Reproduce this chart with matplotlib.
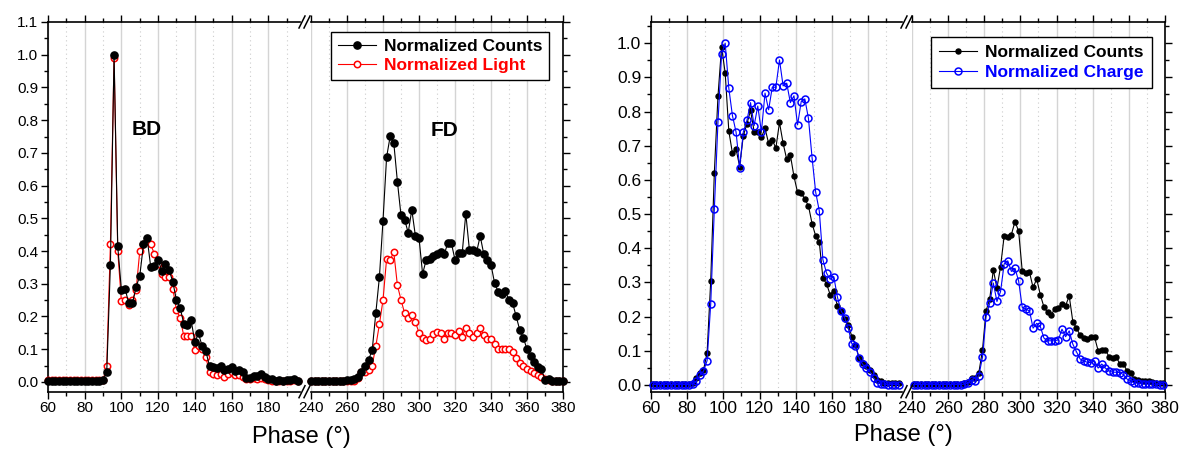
import numpy as np
import matplotlib
matplotlib.use('Agg')
import matplotlib.pyplot as plt
from matplotlib.lines import Line2D
from matplotlib.ticker import MultipleLocator

plt.rcParams['font.family'] = ['Liberation Sans', 'DejaVu Sans']

# ─────────────────────────────────────────────────────────────
# Data: left panel (counts vs light), even phases
# ─────────────────────────────────────────────────────────────
phase_L_a = np.arange(60, 197, 2)      # 60..196
phase_L_b = np.arange(240, 381, 2)     # 240..380

counts_L_a = [0.002, 0.003, 0.002, 0.003, 0.002, 0.002, 0.003, 0.002, 0.003, 0.002,
              0.002, 0.003, 0.002, 0.004, 0.003,
              0.005, 0.030, 0.357, 1.000, 0.414, 0.280, 0.285, 0.240, 0.240, 0.290,
              0.324, 0.420, 0.440, 0.350, 0.355, 0.373, 0.340, 0.360, 0.343, 0.305,
              0.250, 0.226, 0.178, 0.175, 0.188, 0.122, 0.148, 0.109, 0.094, 0.048,
              0.044, 0.042, 0.050, 0.036, 0.040, 0.045, 0.034, 0.035, 0.030, 0.012,
              0.012, 0.018, 0.017, 0.025, 0.015, 0.010, 0.008, 0.002, 0.006, 0.004,
              0.006, 0.005, 0.010, 0.004]
light_L_a = [0.005, 0.005, 0.005, 0.005, 0.005, 0.005, 0.005, 0.005, 0.005, 0.005,
             0.005, 0.005, 0.005, 0.005, 0.005,
             0.005, 0.050, 0.420, 0.990, 0.400, 0.246, 0.250, 0.235, 0.250, 0.280,
             0.400, 0.420, 0.430, 0.420, 0.390, 0.360, 0.330, 0.322, 0.322, 0.285,
             0.219, 0.195, 0.140, 0.140, 0.140, 0.097, 0.110, 0.100, 0.075, 0.030,
             0.025, 0.020, 0.025, 0.015, 0.025, 0.030, 0.020, 0.020, 0.015, 0.010,
             0.010, 0.012, 0.010, 0.012, 0.010, 0.005, 0.003, 0.002, 0.003, 0.002,
             0.003, 0.003, 0.005, 0.003]
counts_L_b = [0.002, 0.003, 0.002, 0.003, 0.003, 0.002, 0.003, 0.004, 0.003, 0.004,
              0.005, 0.006, 0.008,
              0.015, 0.030, 0.050, 0.068, 0.097, 0.210, 0.320, 0.493, 0.687, 0.751,
              0.730, 0.612, 0.509, 0.496, 0.456, 0.526, 0.446, 0.440, 0.330, 0.373,
              0.377, 0.384, 0.392, 0.397, 0.390, 0.424, 0.424, 0.373, 0.394, 0.394,
              0.514, 0.404, 0.402, 0.397, 0.446, 0.390, 0.372, 0.358, 0.302, 0.275,
              0.270, 0.278, 0.250, 0.241, 0.200, 0.158, 0.135, 0.099, 0.078, 0.061,
              0.046, 0.038, 0.007, 0.008, 0.004, 0.002, 0.004, 0.002]
light_L_b = [0.004] * 13 + \
            [0.012, 0.030, 0.030, 0.035, 0.050, 0.109, 0.176, 0.250, 0.376, 0.373,
             0.397, 0.295, 0.251, 0.210, 0.196, 0.203, 0.183, 0.150,
             0.135, 0.129, 0.130, 0.145, 0.153, 0.148, 0.132, 0.148, 0.148, 0.143,
             0.155, 0.138, 0.166, 0.150, 0.138, 0.150, 0.164, 0.143, 0.132, 0.132,
             0.115, 0.102, 0.099, 0.099, 0.102, 0.092, 0.074, 0.058, 0.048, 0.038,
             0.034, 0.026, 0.021, 0.015,
             0.008, 0.005, 0.004, 0.003, 0.003, 0.003]

# ─────────────────────────────────────────────────────────────
# Data: right panel (counts vs charge), odd phases
# ─────────────────────────────────────────────────────────────
phase_R_a = np.arange(61, 198, 2)      # 61..197
phase_R_b = np.arange(241, 380, 2)     # 241..379

counts_R_a = [0.003] * 11 + \
             [0.006, 0.021, 0.036, 0.044, 0.093, 0.304, 0.621, 0.844, 0.990, 0.912,
              0.743, 0.678, 0.690, 0.639, 0.729, 0.764, 0.803, 0.741, 0.741, 0.724,
              0.751, 0.707, 0.717, 0.693, 0.768, 0.707, 0.660, 0.673, 0.610, 0.563,
              0.561, 0.544, 0.524, 0.472, 0.436, 0.418, 0.312, 0.296, 0.264, 0.276,
              0.231, 0.215, 0.193, 0.176, 0.141, 0.117, 0.078, 0.065, 0.054, 0.044,
              0.029, 0.015, 0.010, 0.005, 0.006, 0.004, 0.004, 0.004]
charge_R_a = [0.001] * 11 + \
             [0.003, 0.010, 0.028, 0.040, 0.071, 0.237, 0.514, 0.768, 0.968, 1.000,
              0.868, 0.788, 0.740, 0.636, 0.740, 0.774, 0.826, 0.759, 0.816, 0.741,
              0.854, 0.805, 0.871, 0.871, 0.951, 0.875, 0.883, 0.826, 0.846, 0.761,
              0.829, 0.837, 0.780, 0.665, 0.564, 0.509, 0.366, 0.327, 0.309, 0.317,
              0.257, 0.217, 0.197, 0.166, 0.120, 0.115, 0.078, 0.060, 0.048, 0.038,
              0.020, 0.005, 0.003, 0.002, 0.001, 0.001, 0.001, 0.001]
counts_R_b = [0.003] * 14 + \
             [0.005, 0.007, 0.020, 0.021, 0.036, 0.102, 0.217, 0.251, 0.337, 0.283,
              0.346, 0.436, 0.434, 0.440, 0.478, 0.450, 0.333, 0.328, 0.330, 0.285,
              0.310, 0.264, 0.228, 0.212, 0.205, 0.222, 0.226, 0.238, 0.232, 0.260,
              0.185, 0.166, 0.146, 0.137, 0.135, 0.140, 0.140, 0.100, 0.102, 0.102,
              0.083, 0.078, 0.081, 0.062, 0.061, 0.041, 0.034, 0.018, 0.015, 0.012,
              0.010, 0.010, 0.008, 0.006, 0.006, 0.005]
charge_R_b = [0.001] * 14 + \
             [0.002, 0.005, 0.015, 0.010, 0.027, 0.081, 0.200, 0.239, 0.298, 0.244,
              0.273, 0.354, 0.363, 0.332, 0.341, 0.304, 0.227, 0.221, 0.217, 0.166,
              0.180, 0.171, 0.137, 0.129, 0.129, 0.129, 0.132, 0.163, 0.141, 0.158,
              0.119, 0.097, 0.076, 0.070, 0.066, 0.065, 0.070, 0.049, 0.061, 0.049,
              0.041, 0.037, 0.037, 0.036, 0.030, 0.017, 0.012, 0.005, 0.005, 0.003,
              0.002, 0.002, 0.002, 0.002, 0.001, 0.001]

W, H = 1188, 454
fig = plt.figure(figsize=(W / 100, H / 100), dpi=100)


def px_ax(x0, x1, y0=22, y1=391.7):
    return fig.add_axes([x0 / W, 1 - y1 / H, (x1 - x0) / W, (y1 - y0) / H])


def style(ax, side, xlim, ylim, majors, fs):
    ax.set_xlim(*xlim)
    ax.set_ylim(*ylim)
    ax.xaxis.set_major_locator(MultipleLocator(20))
    ax.xaxis.set_minor_locator(MultipleLocator(10))
    ax.yaxis.set_major_locator(MultipleLocator(0.1))
    ax.yaxis.set_minor_locator(MultipleLocator(0.05))
    ax.set_xticks(majors)
    ax.grid(True, which='major', axis='x', color='#d4d4d4', lw=1.0)
    ax.grid(True, which='minor', axis='x', color='#cccccc', lw=0.8, ls=(0, (1, 3)))
    ax.set_axisbelow(True)
    for s in ax.spines.values():
        s.set_linewidth(1.2)
    if side == 'left':
        ax.spines['right'].set_visible(False)
        ax.tick_params(which='both', direction='out', top=True, right=False,
                       left=True, labelleft=True)
    else:
        ax.spines['left'].set_visible(False)
        ax.tick_params(which='both', direction='out', top=True, right=True,
                       left=False, labelleft=False)
    ax.tick_params(which='major', length=5, width=1, labelsize=fs, pad=2)
    ax.tick_params(which='minor', length=3, width=1)
    ax.yaxis.set_major_formatter(plt.FuncFormatter(lambda v, p: f'{v:.1f}'))


def break_marks(xg0, xg1):
    for yy in (22, 391.7):
        for dx in (0, 5):
            xa = xg0 + dx - 1
            fig.add_artist(Line2D([xa / W, (xa + 6) / W],
                                  [1 - (yy + 6) / H, 1 - (yy - 6) / H],
                                  color='k', lw=1.1))


# ───────────────────────── left panel ─────────────────────────
ylim_L = (-0.03, 1.1)
a1 = px_ax(48, 300)
a2 = px_ax(311, 563)
style(a1, 'left', (60, 197.3), ylim_L, range(60, 181, 20), 11)
style(a2, 'right', (240, 380), ylim_L, range(240, 381, 20), 11)
for ax, ph, cnt, lt in [(a1, phase_L_a, counts_L_a, light_L_a),
                        (a2, phase_L_b, counts_L_b, light_L_b)]:
    ax.plot(ph, lt, '-o', color='#ff0000', lw=0.8, ms=4.6, mfc='white',
            mec='#ff0000', mew=1.1, clip_on=False, zorder=3)
    ax.plot(ph, cnt, '-o', color='black', lw=0.8, ms=5.2, clip_on=False, zorder=4)
a1.text(113.8, 0.77, 'BD', fontsize=15, fontweight='bold', ha='center', va='center')
a2.text(313.9, 0.767, 'FD', fontsize=15, fontweight='bold', ha='center', va='center')
hL = [Line2D([], [], color='black', lw=0.8, marker='o', ms=5.2),
      Line2D([], [], color='#ff0000', lw=0.8, marker='o', ms=4.6, mfc='white', mew=1.1)]
lg = a2.legend(hL, ['Normalized Counts', 'Normalized Light'], loc='upper right',
               bbox_to_anchor=(0.946, 0.972), borderaxespad=0, fancybox=False,
               edgecolor='black', framealpha=1, handlelength=2.2, handletextpad=0.45,
               labelspacing=0.2, borderpad=0.4, labelcolor='linecolor',
               prop={'weight': 'bold', 'size': 12.5})
lg.get_frame().set_linewidth(1.0)
break_marks(300, 311)
fig.text(301.7 / W, 1 - 437 / H, 'Phase (°)', fontsize=17, ha='center', va='center')

# ───────────────────────── right panel ────────────────────────
ylim_R = (-0.02, 1.062)
b1 = px_ax(651, 902)
b2 = px_ax(912, 1165)
style(b1, 'left', (60, 198.7), ylim_R, range(60, 181, 20), 12.5)
style(b2, 'right', (240, 380), ylim_R, range(240, 381, 20), 12.5)
b1.set_yticks(np.arange(0, 1.01, 0.1))
b2.set_yticks(np.arange(0, 1.01, 0.1))
for ax, ph, cnt, ch in [(b1, phase_R_a, counts_R_a, charge_R_a),
                        (b2, phase_R_b, counts_R_b, charge_R_b)]:
    ax.plot(ph, cnt, '-o', color='black', lw=0.8, ms=3.6, clip_on=False, zorder=3)
    ax.plot(ph, ch, '-o', color='#0000ff', lw=0.8, ms=5.0, mfc='none',
            mec='#0000ff', mew=1.1, clip_on=False, zorder=4)
hR = [Line2D([], [], color='black', lw=0.8, marker='o', ms=3.6),
      Line2D([], [], color='#0000ff', lw=0.8, marker='o', ms=5.0, mfc='none', mew=1.1)]
lg = b2.legend(hR, ['Normalized Counts', 'Normalized Charge'], loc='upper right',
               bbox_to_anchor=(0.947, 0.960), borderaxespad=0, fancybox=False,
               edgecolor='black', framealpha=1, handlelength=2.2, handletextpad=0.45,
               labelspacing=0.3, borderpad=0.45, labelcolor='linecolor',
               prop={'weight': 'bold', 'size': 12.5})
lg.get_frame().set_linewidth(1.0)
break_marks(902, 912)
fig.text(903 / W, 1 - 435 / H, 'Phase (°)', fontsize=17, ha='center', va='center')

fig.savefig('out.png', dpi=100)
